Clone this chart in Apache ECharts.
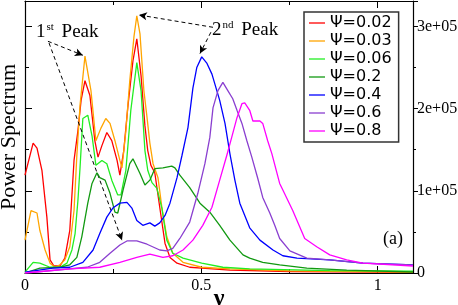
<!DOCTYPE html>
<html><head><meta charset="utf-8">
<script src="https://cdn.jsdelivr.net/npm/echarts@6/dist/echarts.min.js"></script>
<style>html,body{margin:0;padding:0;background:#fff}#c{width:458px;height:305px}</style>
</head><body><div id="c"></div>
<script>
// Power spectrum, units of 1e+05
const names = ['Ψ=0.02','Ψ=0.03','Ψ=0.06','Ψ=0.2','Ψ=0.4','Ψ=0.6','Ψ=0.8'];
const colors = ['#ff0000','#ffa500','#22ee22','#119911','#0000ff','#8a3fd0','#ff00ff'];

const nu_002 = [0,0.023,0.034,0.048,0.062,0.071,0.082,0.099,0.113,0.127,0.139,0.150,0.159,0.170,0.184,0.198,0.207,0.218,0.232,0.246,0.261,0.269,0.280,0.292,0.306,0.317,0.329,0.340,0.348,0.357,0.368,0.382,0.397,0.411,0.431,0.467,0.501,0.581,0.751,1.1];
const p_002  = [1.19,1.58,1.52,1.25,0.68,0.16,0.085,0.085,0.18,0.52,1.37,1.73,2.10,2.34,2.16,1.61,1.41,1.55,1.71,1.61,1.37,1.19,1.49,2.04,2.58,2.85,2.40,1.79,1.49,1.31,1.22,0.80,0.36,0.19,0.12,0.07,0.06,0.036,0.018,0.008];

const nu_003 = [0,0.017,0.034,0.042,0.057,0.071,0.085,0.099,0.113,0.127,0.139,0.147,0.156,0.170,0.187,0.201,0.215,0.229,0.241,0.255,0.269,0.275,0.286,0.297,0.309,0.317,0.326,0.337,0.346,0.354,0.363,0.377,0.388,0.402,0.419,0.448,0.501,0.581,0.751,1.1];
const p_003  = [0.40,0.76,0.73,0.52,0.28,0.12,0.07,0.10,0.16,0.32,0.76,1.43,2.04,2.64,2.22,1.61,1.76,1.88,1.82,1.61,1.37,1.28,1.73,2.34,2.88,3.13,2.91,2.22,1.89,1.58,1.33,1.16,0.80,0.44,0.24,0.13,0.07,0.05,0.025,0.012];

const nu_006 = [0,0.023,0.042,0.071,0.099,0.119,0.133,0.142,0.150,0.156,0.164,0.178,0.190,0.201,0.218,0.232,0.246,0.263,0.272,0.286,0.300,0.317,0.329,0.340,0.348,0.360,0.374,0.388,0.402,0.419,0.448,0.501,0.561,0.637,0.864,1.1];
const p_006  = [0.01,0.13,0.12,0.07,0.07,0.12,0.28,0.48,0.88,1.28,1.88,1.92,1.67,1.31,1.37,1.33,1.13,0.95,0.95,1.25,1.98,2.56,2.22,1.49,1.25,1.10,1.03,0.79,0.40,0.24,0.18,0.12,0.07,0.05,0.03,0.024];

const nu_02 = [0,0.042,0.099,0.127,0.147,0.161,0.178,0.190,0.204,0.212,0.227,0.241,0.255,0.263,0.278,0.297,0.306,0.326,0.340,0.354,0.368,0.391,0.416,0.425,0.439,0.467,0.496,0.524,0.552,0.581,0.618,0.637,0.674,0.722,0.799,0.912,1.1];
const p_02  = [0.00,0.06,0.07,0.10,0.19,0.44,0.85,1.09,1.22,1.16,1.13,0.97,0.74,0.73,1.01,1.33,1.39,1.21,1.07,1.13,1.27,1.28,1.30,1.28,1.19,1.04,0.85,0.74,0.58,0.40,0.22,0.18,0.13,0.10,0.06,0.036,0.012];

const nu_04 = [0,0.079,0.127,0.164,0.193,0.212,0.232,0.249,0.269,0.289,0.303,0.317,0.334,0.354,0.368,0.382,0.397,0.411,0.431,0.445,0.462,0.476,0.487,0.501,0.516,0.530,0.552,0.567,0.581,0.595,0.609,0.637,0.666,0.703,0.731,0.771,0.864,0.958,1.1];
const p_04  = [0.01,0.06,0.07,0.13,0.28,0.48,0.68,0.79,0.85,0.86,0.79,0.64,0.58,0.61,0.57,0.61,0.70,0.85,1.16,1.43,1.77,2.25,2.50,2.63,2.55,2.42,2.10,1.82,1.45,1.13,0.85,0.55,0.40,0.28,0.21,0.18,0.16,0.12,0.10];

const nu_06 = [0,0.176,0.212,0.241,0.269,0.289,0.317,0.346,0.382,0.402,0.419,0.439,0.467,0.490,0.510,0.524,0.533,0.547,0.561,0.575,0.589,0.601,0.615,0.629,0.643,0.660,0.674,0.694,0.708,0.722,0.751,0.799,0.864,0.958,1.1];
const p_06  = [0.00,0.07,0.13,0.24,0.34,0.39,0.39,0.35,0.28,0.27,0.30,0.42,0.62,0.97,1.33,1.65,2.01,2.22,2.32,2.22,2.12,1.98,1.82,1.61,1.41,1.15,0.92,0.73,0.58,0.42,0.27,0.18,0.16,0.12,0.10];

const nu_08 = [0,0.127,0.212,0.269,0.317,0.354,0.391,0.419,0.448,0.476,0.504,0.530,0.552,0.572,0.586,0.601,0.615,0.623,0.637,0.646,0.666,0.674,0.688,0.700,0.722,0.731,0.759,0.793,0.827,0.864,0.912,0.958,1.1];
const p_08  = [0.00,0.05,0.07,0.13,0.19,0.23,0.19,0.21,0.28,0.40,0.58,0.80,1.13,1.43,1.65,1.89,2.06,2.07,1.98,1.85,1.85,1.82,1.61,1.45,1.09,1.01,0.76,0.42,0.32,0.22,0.16,0.12,0.085];

const xTicks = [0, 0.5, 1];
const yTicks = [0, 1, 2, 3];

const nus = [nu_002, nu_003, nu_006, nu_02, nu_04, nu_06, nu_08];
const ps  = [p_002, p_003, p_006, p_02, p_04, p_06, p_08];

const serif = 'Liberation Serif';
const arrowStyle = {color:'#000', type:[4,3], width:1};
const arrows = [
  [[0.065,2.82],[0.164,2.65]],
  [[0.068,2.80],[0.275,0.40]],
  [[0.533,2.99],[0.323,3.14]],
  [[0.527,2.93],[0.496,2.67]]
];

const series = names.map((n,i)=>({
  name:n, type:'line', symbol:'none', showSymbol:false, animation:false,
  data: nus[i].map((v,j)=>[v, ps[i][j]]),
  lineStyle:{color:colors[i], width:1.3}, itemStyle:{color:colors[i]},
  xAxisIndex:0, yAxisIndex:0, z:2+i
}));
series.push({
  type:'line', data:[], xAxisIndex:0, yAxisIndex:0, silent:true, z:20,
  markLine:{
    silent:true, animation:false, symbol:['none','arrow'], symbolSize:[6,8],
    label:{show:false}, lineStyle:arrowStyle,
    data: arrows.map(a=>[{coord:a[0]},{coord:a[1]}])
  }
});

const fmtX = v => xTicks.some(t=>Math.abs(t-v)<1e-6) ? String(v) : '';
const fmtY = v => yTicks.some(t=>Math.abs(t-v)<1e-6) ? (v===0?'0':v+'e+05') : '';

const peakRich = {
  a:{fontFamily:serif, fontSize:19, fill:'#000'},
  b:{fontFamily:serif, fontSize:11, fill:'#000', verticalAlign:'top', padding:[0,3,9,1]}
};

const chart = echarts.init(document.getElementById('c'), null, {renderer:'canvas'});
chart.setOption({
  animation:false,
  backgroundColor:'#fff',
  grid:{left:25, right:45, top:1, bottom:32, show:false, containLabel:false, outerBoundsMode:'none'},
  legend:{
    orient:'vertical', left:304, top:12, itemGap:0, itemWidth:16, itemHeight:10,
    itemTextGap:8, padding:[2,7,2,5], borderColor:'#333', borderWidth:1.5,
    backgroundColor:'#fff',
    textStyle:{fontFamily:'DejaVu Sans', fontSize:16, color:'#000', lineHeight:18},
    data: names.map((n,i)=>({name:n, itemStyle:{color:colors[i]}, icon:'path://M0,0 L16,0 L16,1.3 L0,1.3 Z'}))
  },
  xAxis:[
    {type:'value', position:'bottom', min:0, max:1.1, interval:0.5,
     name:'ν', nameLocation:'middle', nameGap:14, nameMoveOverlap:false,
     nameTextStyle:{fontFamily:serif, fontSize:24, color:'#000', fontWeight:'bold', verticalAlign:'top'},
     axisLine:{show:true, onZero:false, lineStyle:{color:'#000', width:1.2}},
     axisTick:{show:true, inside:true, length:7, lineStyle:{color:'#000'}},
     minorTick:{show:true, splitNumber:2, length:4, lineStyle:{color:'#000'}},
     axisLabel:{formatter:fmtX, fontFamily:serif, fontSize:16, color:'#000', margin:5, showMaxLabel:true},
     splitLine:{show:false}},
    {type:'value', position:'top', min:0, max:1.1, interval:0.5,
     axisLine:{show:true, onZero:false, lineStyle:{color:'#000', width:1.2}},
     axisTick:{show:true, inside:true, length:7, lineStyle:{color:'#000'}},
     minorTick:{show:true, splitNumber:2, length:4, lineStyle:{color:'#000'}},
     axisLabel:{show:false}, splitLine:{show:false}}
  ],
  yAxis:[
    {type:'value', position:'left', min:0, max:3.31, interval:1,
     name:'Power Spectrum', nameLocation:'middle', nameGap:5, nameMoveOverlap:false,
     nameTextStyle:{fontFamily:serif, fontSize:22, color:'#000'},
     axisLine:{show:true, onZero:false, lineStyle:{color:'#000', width:1.2}},
     axisTick:{show:true, inside:true, length:7, lineStyle:{color:'#000'}},
     minorTick:{show:true, splitNumber:2, length:4, lineStyle:{color:'#000'}},
     axisLabel:{show:false}, splitLine:{show:false}},
    {type:'value', position:'right', min:0, max:3.31, interval:1,
     axisLine:{show:true, onZero:false, lineStyle:{color:'#000', width:1.2}},
     axisTick:{show:true, inside:false, length:5, lineStyle:{color:'#000'}},
     minorTick:{show:true, splitNumber:2, length:3, lineStyle:{color:'#000'}},
     axisLabel:{formatter:fmtY, fontFamily:serif, fontSize:16, color:'#000', margin:4},
     splitLine:{show:false}}
  ],
  graphic:[
    {type:'text', left:36, top:22, z:50, style:{text:'{a|1}{b|st}{a| Peak}', rich:peakRich}},
    {type:'text', left:212, top:20, z:50, style:{text:'{a|2}{b|nd}{a| Peak}', rich:peakRich}},
    {type:'text', left:383, top:230, z:50, style:{text:'(a)', font:'18px "Liberation Serif"', fill:'#000'}}
  ],
  series: series
});
</script></body></html>
